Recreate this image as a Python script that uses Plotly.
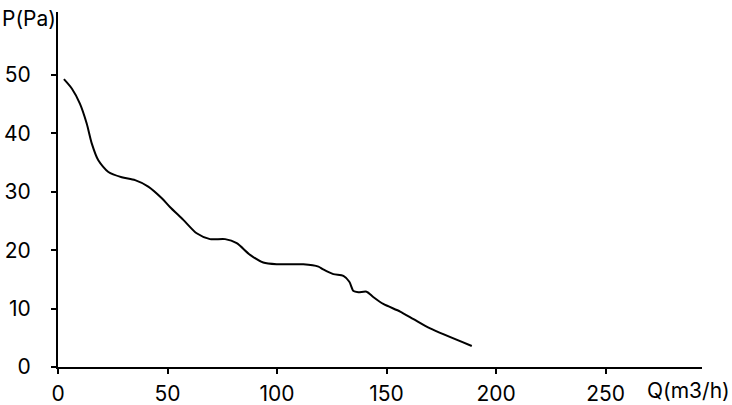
import plotly.graph_objects as go

q_values = [2.7, 6.3, 10, 13.1, 15.4, 18.4, 23, 29.1, 35.2, 41.2, 47.4, 51.1, 57.2, 63.3,
            69.4, 76.3, 81.6, 87.7, 93.7, 99.8, 112, 118.9, 121.1, 125.7, 130.3, 133,
            134.9, 137.1, 140.9, 143.9, 148.5, 156.2, 162.3, 169.9, 188.9]
p_values = [49.3, 47.7, 45.1, 41.7, 38.3, 35.4, 33.4, 32.5, 32, 30.9, 28.9, 27.4, 25.2, 22.9,
            21.9, 21.9, 21.2, 19.2, 17.9, 17.6, 17.6, 17.2, 16.7, 15.9, 15.6, 14.6,
            13, 12.8, 12.9, 12, 10.8, 9.5, 8.2, 6.6, 3.6]
x_ticks = [0, 50, 100, 150, 200, 250]
y_ticks = [0, 10, 20, 30, 40, 50]

FONT = "Inter"

fig = go.Figure()
fig.add_trace(go.Scatter(x=q_values, y=p_values, mode="lines",
                         line=dict(color="black", width=2, shape="spline", smoothing=0.7),
                         showlegend=False, hoverinfo="skip"))

fig.update_layout(
    width=732, height=405,
    margin=dict(l=58, r=30, t=12, b=38),
    plot_bgcolor="white", paper_bgcolor="white",
    font=dict(family=FONT, size=21, color="black"),
    xaxis=dict(range=[0, 294], tickvals=x_ticks, showgrid=False, zeroline=False,
               showline=True, linecolor="black", linewidth=2, automargin=False,
               ticks="outside", ticklen=5, tickwidth=1.5, tickcolor="black",
               ticklabelstandoff=2),
    yaxis=dict(range=[0, 60.8], tickvals=y_ticks, showgrid=False, zeroline=False,
               showline=True, linecolor="black", linewidth=2, automargin=False,
               ticks="outside", ticklen=5, tickwidth=1.5, tickcolor="black",
               ticklabelstandoff=16),
    annotations=[
        dict(text="P(Pa)", xref="paper", yref="paper", x=-0.09, y=0.982,
             xanchor="left", yanchor="middle", showarrow=False),
        dict(text="Q(m3/h)", xref="paper", yref="paper", x=0.911, y=-0.066,
             xanchor="left", yanchor="middle", showarrow=False),
    ],
)

fig.write_html("out.html", config={"displayModeBar": False},
               post_script="document.body.style.margin='0px';document.body.style.overflow='hidden';")
